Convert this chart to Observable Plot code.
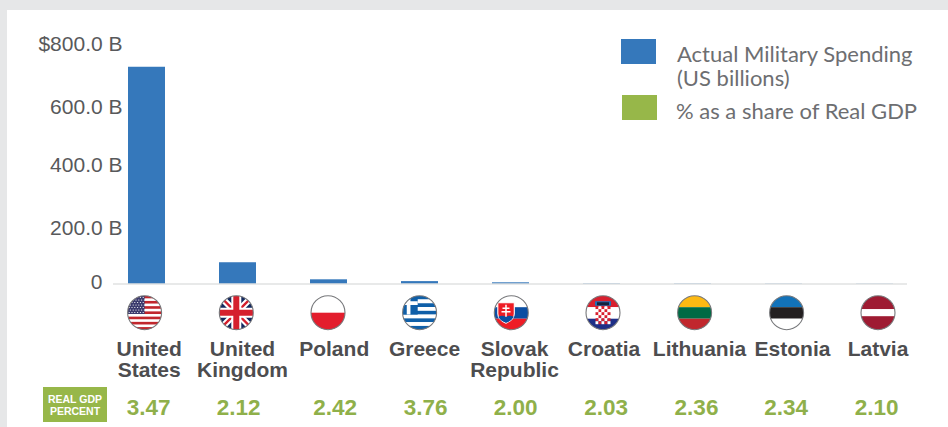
<!DOCTYPE html>
<html>
<head>
<meta charset="utf-8">
<script src="https://cdn.jsdelivr.net/npm/d3@7"></script>
<script src="https://cdn.jsdelivr.net/npm/@observablehq/plot@0.6"></script>
<style>
  html, body { margin: 0; padding: 0; background: #e6e7e8; }
  #stage { position: relative; width: 948px; height: 427px; overflow: hidden; background: #e6e7e8; }
  #panel { position: absolute; left: 7px; top: 10px; right: 0; bottom: 0; background: #fff; }
  #chart { position: absolute; left: 0; top: 0; }
  #chart svg { display: block; background: transparent; }
  .swatch { position: absolute; width: 35px; height: 25px; }
  .legendText { position: absolute; font: 22px/24px Lato, sans-serif; color: #6d6e71; white-space: nowrap; }
  #gdpTag { position: absolute; left: 43px; top: 387px; width: 64px; height: 35px; background: #97b749; color: #fff;
    font: bold 10.5px/12px "Liberation Sans", Arial, sans-serif; text-align: center; display: flex; align-items: center; justify-content: center; }
</style>
</head>
<body>
<div id="stage">
  <div id="panel"></div>
  <div id="chart"></div>
  <div class="swatch" style="left:621px;top:39px;background:#3578bb"></div>
  <div class="legendText" style="left:677px;top:42px">Actual Military Spending<br>(US billions)</div>
  <div class="swatch" style="left:622px;top:95px;background:#97b749"></div>
  <div class="legendText" style="left:676px;top:99px">% as a share of Real GDP</div>
  <div id="gdpTag"><span>REAL GDP<br>PERCENT</span></div>
</div>
<script>
const countries = ["United States","United Kingdom","Poland","Greece","Slovak Republic","Croatia","Lithuania","Estonia","Latvia"];
const countryLabels = ["United\nStates","United\nKingdom","Poland","Greece","Slovak\nRepublic","Croatia","Lithuania","Estonia","Latvia"];
const spending = [724, 71, 14, 8, 4, 0.9, 0.8, 0.6, 0.5];
const gdpPercent = ["3.47","2.12","2.42","3.76","2.00","2.03","2.36","2.34","2.10"];
const yTicks = [800, 600, 400, 200, 0];

// Hand placement of the original artwork, applied on top of the scales
const tickNudge = [-0.7, 2.7, 1, 3.7, -1.8];
const flagNudge = [-2.4, -1.7, -1, -0.4, 0.3, 1, 1.6, 2.6, 3];
const labelNudge = [2.2, 4.5, 5.2, 4.5, 3.5, 2, 6.5, 8.5, 3];
const valueNudge = [1.7, 0.7, 6.2, 5.7, 4.7, 4.2, 3.5, 2.2, 1.7];

function tickText(v) {
  return v === 0 ? "0" : (v === 800 ? "$" : "") + v.toFixed(1) + " B";
}

function flagSvg(body) {
  const s = `<svg xmlns="http://www.w3.org/2000/svg" width="68" height="68" viewBox="0 0 34 34"><clipPath id="c"><circle cx="17" cy="17" r="17"/></clipPath><g clip-path="url(#c)">${body}</g></svg>`;
  return "data:image/svg+xml," + encodeURIComponent(s);
}
const bandsH = (list) => {
  return list.map(([c, y, h]) => `<rect x="0" y="${y}" width="34" height="${h}" fill="${c}"/>`).join("");
};
function usFlag() {
  let b = `<rect width="34" height="34" fill="#fff"/>`;
  for (let i = 0; i < 13; i += 2) b += `<rect y="${i * 34 / 13}" width="34" height="${34 / 13}" fill="#c1272d"/>`;
  b += `<rect width="17" height="18.3" fill="#3c3b6e"/>`;
  for (let r = 0; r < 7; r++) for (let k = 0; k < 6; k++)
    b += `<circle cx="${1.6 + k * 2.8 + (r % 2) * 1.2}" cy="${1.8 + r * 2.5}" r="0.62" fill="#fff"/>`;
  return b;
}
const ukFlag = `<rect width="34" height="34" fill="#14295e"/>
<path d="M0 0L34 34M34 0L0 34" stroke="#fff" stroke-width="6.5"/>
<path d="M0 0L34 34M34 0L0 34" stroke="#d5202e" stroke-width="2.4"/>
<path d="M17 0V34M0 17H34" stroke="#fff" stroke-width="10"/>
<path d="M17 0V34M0 17H34" stroke="#d5202e" stroke-width="6"/>`;
let grStripes = "";
for (let i = 0; i < 9; i++) grStripes += `<rect y="${i * 34 / 9}" width="34" height="${34 / 9}" fill="${i % 2 ? "#fff" : "#0f5fa8"}"/>`;
const grFlag = grStripes + `<rect width="15.1" height="18.9" fill="#0f5fa8"/><path d="M6 0V18.9M0 7.5H15.1" stroke="#fff" stroke-width="3.7"/>`;
const skFlag = bandsH([["#fff",0,11.5],["#0b4ea2",11.5,11.5],["#ee1c25",23,11]]) +
  `<path d="M3.5 7H20V18C20 23 15 26 11.7 27.5C8.5 26 3.5 23 3.5 18Z" fill="#ee1c25" stroke="#fff" stroke-width="1.1"/>
   <path d="M4 21Q8 19 11.7 21Q15.5 19 19.5 21Q17 25.5 11.7 27Q6.5 25.5 4 21Z" fill="#0b4ea2"/>
   <path d="M11.7 9V21M8.2 12.5H15.2M7.2 16H16.2" stroke="#fff" stroke-width="1.5"/>`;
let hrChecks = "";
for (let r = 0; r < 6; r++) for (let k = 0; k < 5; k++)
  hrChecks += `<rect x="${9.5 + k * 3}" y="${10.5 + r * 3}" width="3" height="3" fill="${(r + k) % 2 ? "#fff" : "#d8202f"}"/>`;
const hrFlag = bandsH([["#d8202f",0,11.5],["#fff",11.5,11.5],["#1e2f87",23,11]]) +
  `<path d="M9 5.5H25V10H9Z" fill="#1d6fb8"/><path d="M11 6.5H23V9.5H11Z" fill="#14213d"/>` + hrChecks;
const plFlag = bandsH([["#fff",0,17],["#e31d2d",17,17]]);
const ltFlag = bandsH([["#fdb913",0,11.5],["#006a44",11.5,11.5],["#c1272d",23,11]]);
const eeFlag = bandsH([["#1272b9",0,11.5],["#231f20",11.5,11.5],["#fff",23,11]]);
const lvFlag = bandsH([["#9e1b32",0,13.5],["#fff",13.5,7],["#9e1b32",20.5,13.5]]);
const flags = [usFlag(), ukFlag, plFlag, grFlag, skFlag, hrFlag, ltFlag, eeFlag, lvFlag].map(flagSvg);

const sans = "'Liberation Sans', Arial, sans-serif";

const marks = [
  Plot.barY(countries, {x: (d) => d, y: (d, i) => spending[i], fill: "#3578bb"}),
  Plot.ruleY([0], {stroke: "#d1d3d4", strokeWidth: 1.2}),
  ...yTicks.map((v, i) => Plot.axisY([v], {
    tickSize: 0, tickPadding: 0, label: null, dx: v === 0 ? -11 : 9, dy: tickNudge[i],
    tickFormat: tickText, fontSize: 21, fill: "#58595b", stroke: "none"
  })),
  ...countries.flatMap((c, i) => [
    Plot.image([c], {x: (d) => d, frameAnchor: "bottom", dx: flagNudge[i], dy: 28.7, src: flags[i], width: 34, height: 34}),
    Plot.dot([c], {x: (d) => d, frameAnchor: "bottom", dx: flagNudge[i], dy: 28.7, r: 17, stroke: "#77787b", strokeWidth: 1.1, fill: "none"}),
    Plot.text([countryLabels[i]], {x: () => c, frameAnchor: "bottom", lineAnchor: "top", dx: labelNudge[i], dy: 56.8,
      text: (d) => d, fontSize: 21, lineHeight: 1, fontWeight: "bold", fill: "#4d4d4f", textAnchor: "middle"}),
    Plot.text([gdpPercent[i]], {x: () => c, frameAnchor: "bottom", lineAnchor: "top", dx: valueNudge[i], dy: 114.8,
      text: (d) => d, fontSize: 22.5, fontWeight: "bold", fill: "#8fb04a", textAnchor: "middle"})
  ])
];

const chart = Plot.plot({
  width: 948,
  height: 427,
  marginLeft: 113,
  marginRight: 41,
  marginTop: 44,
  marginBottom: 143.5,
  style: {fontFamily: sans, background: "transparent", overflow: "visible"},
  x: {type: "band", domain: countries, range: [101, 920], paddingInner: 0.593, paddingOuter: 0.2965, axis: null, label: null},
  y: {domain: [0, 800], axis: null, label: null},
  marks
});
document.getElementById("chart").appendChild(chart);
</script>
</body>
</html>
